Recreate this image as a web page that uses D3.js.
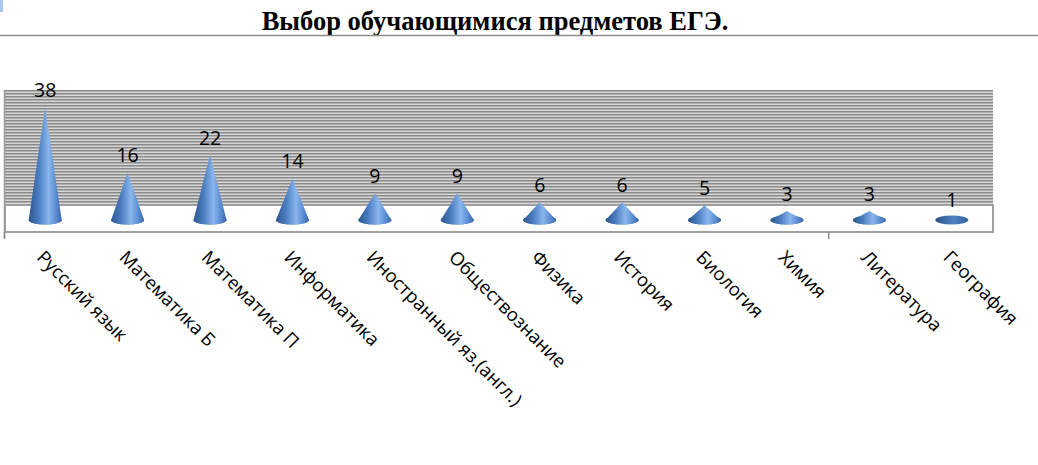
<!DOCTYPE html>
<html>
<head>
<meta charset="utf-8">
<script src="https://cdn.jsdelivr.net/npm/d3@7"></script>
<style>
  body { margin: 0; background: #fff; }
  svg { display: block; }
</style>
</head>
<body>
<div id="chart"></div>
<script>
// chart data
var subjects = ["Русский язык", "Математика Б", "Математика П", "Информатика",
  "Иностранный яз.(англ.)", "Обществознание", "Физика", "История", "Биология",
  "Химия", "Литература", "География"];
var counts = [38, 16, 22, 14, 9, 9, 6, 6, 5, 3, 3, 1];
var chartTitle = "Выбор обучающимися предметов ЕГЭ.";

var W = 1038, H = 465;
var plot = {left: 4, right: 993, wallTop: 90, floorTop: 205, floorBottom: 232, base: 220};

var svg = d3.select("#chart").append("svg")
  .attr("width", W)
  .attr("height", H);

var defs = svg.append("defs");

// striped back wall
var pat = defs.append("pattern")
  .attr("id", "stripes")
  .attr("patternUnits", "userSpaceOnUse")
  .attr("width", 6).attr("height", 3);
pat.append("rect").attr("width", 6).attr("height", 3).attr("fill", "#d6d6d6");
pat.append("rect").attr("y", 0).attr("width", 6).attr("height", 1).attr("fill", "#8a8a8a");
pat.append("rect").attr("y", 1).attr("width", 6).attr("height", 1).attr("fill", "#b0b0b0");

// cone shading
var g1 = defs.append("linearGradient").attr("id", "coneGrad")
  .attr("x1", "0").attr("x2", "1").attr("y1", "0").attr("y2", "0");
g1.append("stop").attr("offset", "0").attr("stop-color", "#2d5890");
g1.append("stop").attr("offset", "0.3").attr("stop-color", "#4a7cbf");
g1.append("stop").attr("offset", "0.6").attr("stop-color", "#8ab6ee");
g1.append("stop").attr("offset", "0.8").attr("stop-color", "#5f92d6");
g1.append("stop").attr("offset", "1").attr("stop-color", "#3a68a8");

var g2 = defs.append("linearGradient").attr("id", "baseGrad")
  .attr("x1", "0").attr("x2", "1").attr("y1", "0").attr("y2", "0");
g2.append("stop").attr("offset", "0").attr("stop-color", "#2b5288");
g2.append("stop").attr("offset", "0.55").attr("stop-color", "#4f80c2");
g2.append("stop").attr("offset", "1").attr("stop-color", "#3763a0");

// title
svg.append("text")
  .attr("x", 495)
  .attr("y", 30)
  .attr("text-anchor", "middle")
  .style("font-family", "'Liberation Serif', 'Times New Roman', serif")
  .style("font-weight", "bold")
  .style("font-size", "26.5px")
  .text(chartTitle);

svg.append("line")
  .attr("x1", 0).attr("x2", W)
  .attr("y1", 35.5).attr("y2", 35.5)
  .attr("stroke", "#8c8c8c")
  .attr("stroke-width", 1.5);

svg.append("rect")
  .attr("x", 0).attr("y", 0).attr("width", 3).attr("height", 12)
  .attr("fill", "#a9c8ee");

// scales
var x = d3.scaleBand()
  .domain(subjects)
  .range([plot.left, plot.right])
  .padding(0);

var y = d3.scaleLinear()
  .domain([0, 40])
  .range([plot.base, plot.base - 2.97 * 40]);

// back wall
svg.append("rect")
  .attr("x", plot.left)
  .attr("y", plot.wallTop)
  .attr("width", plot.right - plot.left)
  .attr("height", plot.floorTop - plot.wallTop)
  .attr("fill", "url(#stripes)");

// floor
svg.append("rect")
  .attr("x", plot.left + 1)
  .attr("y", plot.floorTop)
  .attr("width", plot.right - plot.left - 1)
  .attr("height", plot.floorBottom - plot.floorTop)
  .attr("fill", "#fff")
  .attr("stroke", "#a0a0a0")
  .attr("stroke-width", 2);

// left side edge
svg.append("line")
  .attr("x1", plot.left + 0.5).attr("x2", plot.left + 0.5)
  .attr("y1", plot.wallTop).attr("y2", plot.floorBottom + 6)
  .attr("stroke", "#9a9a9a")
  .attr("stroke-width", 1.5);

// category axis with a tick every 10 categories
var tickX = [0, 10].map(function(i) { return plot.left + i * x.step(); });
svg.append("g").selectAll("line.tick")
  .data(tickX)
  .enter().append("line")
  .attr("x1", function(d) { return d + 0.5; })
  .attr("x2", function(d) { return d + 0.5; })
  .attr("y1", plot.floorBottom)
  .attr("y2", plot.floorBottom + 7)
  .attr("stroke", "#8c8c8c")
  .attr("stroke-width", 1.5);

// cones
var rx = 16.5, ry = 4.5;
var cones = svg.append("g").selectAll("g.cone")
  .data(subjects)
  .enter().append("g");

cones.append("ellipse")
  .attr("cx", function(d) { return x(d) + x.bandwidth() / 2; })
  .attr("cy", plot.base)
  .attr("rx", rx)
  .attr("ry", ry)
  .attr("fill", "url(#baseGrad)");

cones.append("path")
  .attr("d", function(d, i) {
    var cx = x(d) + x.bandwidth() / 2;
    var top = y(counts[i]);
    if (top > plot.base - ry) return "";
    return "M" + (cx - rx) + "," + plot.base +
      " L" + cx + "," + top +
      " L" + (cx + rx) + "," + plot.base +
      " A" + rx + "," + ry + " 0 0 1 " + (cx - rx) + "," + plot.base + " Z";
  })
  .attr("fill", "url(#coneGrad)");

// value labels
svg.append("g").selectAll("text")
  .data(subjects)
  .enter().append("text")
  .attr("x", function(d) { return x(d) + x.bandwidth() / 2; })
  .attr("y", function(d, i) { return y(counts[i]) - 10; })
  .attr("text-anchor", "middle")
  .style("font-family", "'Open Sans', 'Noto Sans', sans-serif")
  .style("font-size", "19.5px")
  .attr("fill", "#000")
  .text(function(d, i) { return counts[i]; });

// category labels, rotated
svg.append("g").selectAll("text")
  .data(subjects)
  .enter().append("text")
  .attr("transform", function(d) {
    return "translate(" + (x(d) + x.bandwidth() / 2 + 1) + "," + 248 + ") rotate(45)";
  })
  .attr("dy", "0.8em")
  .attr("text-anchor", "start")
  .style("font-family", "'Open Sans', 'Noto Sans', sans-serif")
  .style("font-size", "18.5px")
  .attr("fill", "#000")
  .text(function(d) { return d; });
</script>
</body>
</html>
